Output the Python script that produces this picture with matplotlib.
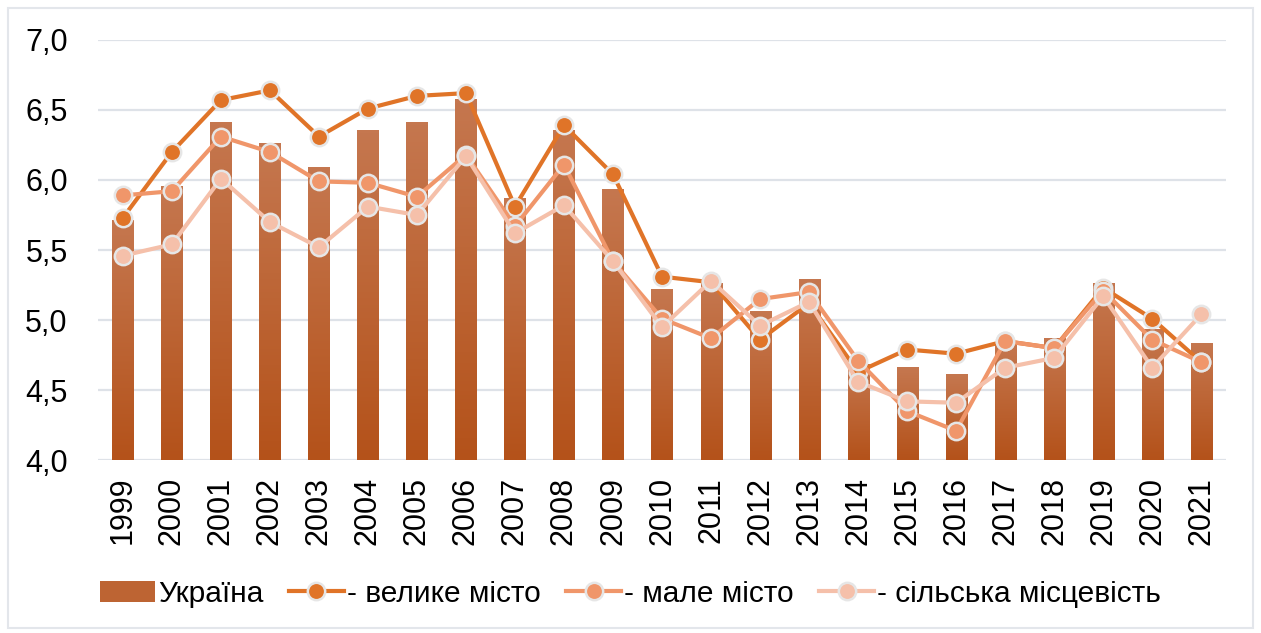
import numpy as np
import matplotlib
matplotlib.use("Agg")
from matplotlib import pyplot as plt
from matplotlib.patches import Rectangle, Patch
from matplotlib.lines import Line2D
from matplotlib.colors import LinearSegmentedColormap

years = [str(y) for y in range(1999, 2022)]
ukraine = [5.71, 5.95, 6.41, 6.26, 6.09, 6.35, 6.41, 6.57, 5.87, 6.35, 5.93, 5.22,
           5.26, 5.06, 5.29, 4.68, 4.66, 4.61, 4.84, 4.87, 5.26, 4.93, 4.83]
big_city = [5.73, 6.20, 6.57, 6.64, 6.31, 6.51, 6.60, 6.62, 5.81, 6.39, 6.04, 5.31,
            5.27, 4.86, 5.12, 4.63, 4.79, 4.76, 4.85, 4.80, 5.23, 5.01, 4.70]
small_city = [5.89, 5.92, 6.31, 6.20, 5.99, 5.98, 5.88, 6.18, 5.67, 6.11, 5.42, 5.01,
              4.87, 5.15, 5.20, 4.71, 4.35, 4.21, 4.85, 4.80, 5.21, 4.86, 4.70]
rural = [5.46, 5.54, 6.01, 5.70, 5.52, 5.81, 5.75, 6.17, 5.62, 5.82, 5.42, 4.95,
         5.28, 4.96, 5.13, 4.56, 4.42, 4.41, 4.66, 4.73, 5.17, 4.66, 5.04]

labels = ["Україна", "- велике місто", "- мале місто", "- сільська місцевість"]
colors = ["#E07428", "#F0966A", "#F5C0AA"]

plt.rcParams['font.family'] = ['Liberation Sans', 'DejaVu Sans']

fig = plt.figure(figsize=(12.61, 6.33), dpi=100)
ax = fig.add_axes([0.078, 0.273, 0.894, 0.664])

x = np.arange(len(years))
bars = ax.bar(x, np.array(ukraine) - 4.0, bottom=4.0, width=0.43, color="none", zorder=2)
cmap = LinearSegmentedColormap.from_list("bar", ["#B4521A", "#C5774F"])
grad = np.linspace(0, 1, 100).reshape(-1, 1)
for b in bars:
    x0, y0 = b.get_x(), b.get_y()
    ax.imshow(grad, cmap=cmap, origin="lower", aspect="auto",
              extent=[x0, x0 + b.get_width(), y0, y0 + b.get_height()], zorder=2)

for series, c in zip([big_city, small_city, rural], colors):
    ax.plot(x, series, color=c, lw=3, marker="o", ms=12.5, mfc=c, mec="#E6E6E6",
            mew=1.8, zorder=3)

ax.set_xlim(-0.5, len(years) - 0.5)
ax.set_ylim(4.0, 7.0)
ax.set_yticks(np.arange(4.0, 7.01, 0.5))
ax.set_yticklabels([f"{v:.1f}".replace(".", ",") for v in np.arange(4.0, 7.01, 0.5)])
ax.set_xticks(x)
ax.set_xticklabels(years, rotation=90)
ax.tick_params(length=0, labelsize=22, pad=12)
ax.tick_params(axis="y", pad=22)
ax.grid(axis="y", color="#DEE2E8", lw=1.6, zorder=0)
ax.set_axisbelow(True)
for s in ax.spines.values():
    s.set_visible(False)

handles = [Patch(facecolor="#BD6433", edgecolor="none")]
for c in colors:
    handles.append(Line2D([], [], color=c, lw=3, marker="o", ms=12.5, mfc=c,
                          mec="#E6E6E6", mew=1.8))
fig.legend(handles, labels, loc="center", bbox_to_anchor=(0.5, 0.062), ncol=4,
           frameon=False, fontsize=21.5, handlelength=1.85, handletextpad=0.1,
           columnspacing=0.85)

fig.patches.append(Rectangle((0.006, 0.008), 0.988, 0.98, transform=fig.transFigure,
                             fill=False, edgecolor="#E3E6EB", lw=1.5))

fig.savefig("out.png", dpi=100)
